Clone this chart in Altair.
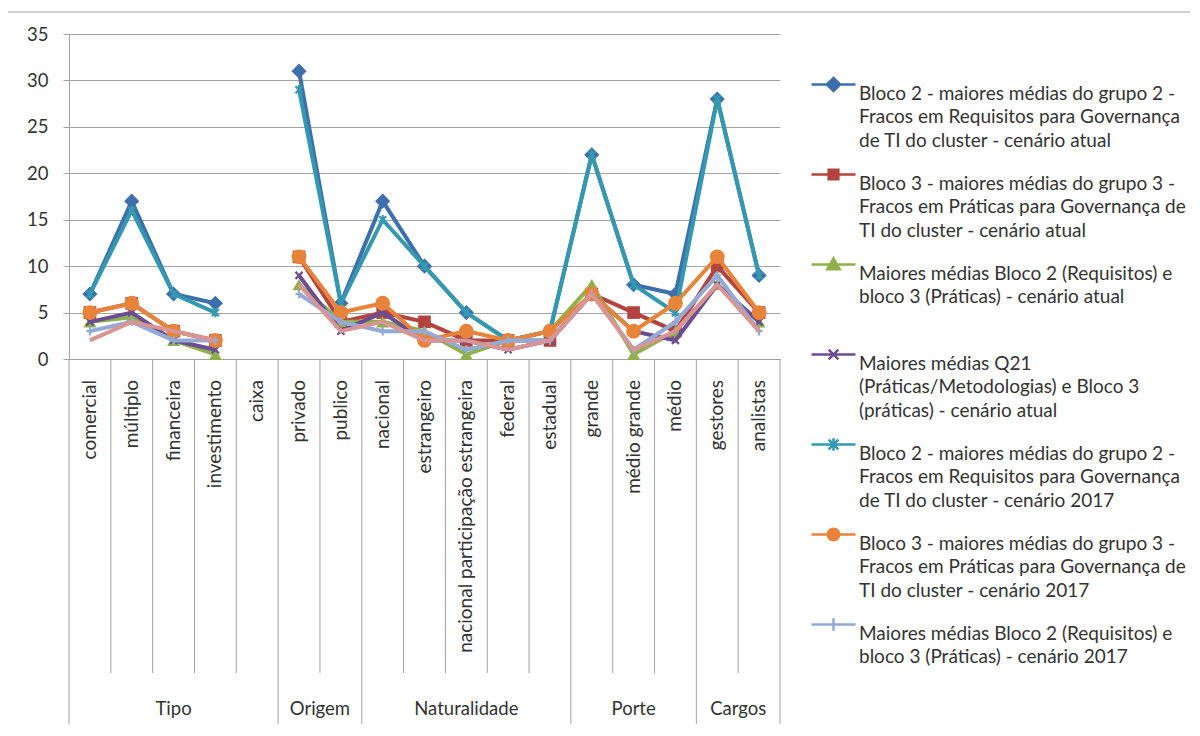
import altair as alt
import pandas as pd

# ---------------- data ----------------
categories = ["comercial", "múltiplo", "financeira", "investimento", "caixa",
              "privado", "publico",
              "nacional", "estrangeiro", "nacional  participação estrangeira", "federal", "estadual",
              "grande", "médio grande", "médio",
              "gestores", "analistas"]
group_names = ["Tipo", "Origem", "Naturalidade", "Porte", "Cargos"]
group_sizes = [5, 2, 5, 3, 2]

series_names = [
    "Bloco 2 - maiores médias do grupo 2 -|Fracos em Requisitos para Governança|de TI do cluster - cenário atual",
    "Bloco 3 - maiores  médias do grupo 3 -|Fracos em Práticas para Governança de|TI do cluster - cenário atual",
    "Maiores  médias Bloco 2 (Requisitos) e|bloco 3 (Práticas) - cenário atual| ",
    "Maiores médias Q21|(Práticas/Metodologias)  e Bloco 3|(práticas) -  cenário atual",
    "Bloco 2 - maiores  médias do grupo 2 -|Fracos em Requisitos para Governança|de TI do cluster - cenário 2017",
    "Bloco 3 - maiores médias do grupo 3 -|Fracos em Práticas para Governança de|TI do cluster - cenário 2017",
    "Maiores médias Bloco 2 (Requisitos) e|bloco 3 (Práticas) - cenário 2017",
    "extra",
]
N = None
bloco2_atual = [7, 17, 7, 6, N, 31, 6, 17, 10, 5, 2, 3, 22, 8, 7, 28, 9]
bloco3_atual = [5, 6, 3, 2, N, 11, 4, 5, 4, 2, 2, 2, 7, 5, 3, 10, 5]
b2b3_atual = [4, 4.5, 2, 0.5, N, 8, 4, 4, 3, 0.5, 2, 3, 8, 0.5, 3, 8, 4]
q21_atual = [4, 5, 2, 1, N, 9, 3, 5, 2, 2, 1, 2, 7, 3, 2, 8, 4]
bloco2_2017 = [7, 16, 7, 5, N, 29, 6, 15, 10, 5, 2, 3, 22, 8, 5, 28, 9]
bloco3_2017 = [5, 6, 3, 2, N, 11, 5, 6, 2, 3, 2, 3, 7, 3, 6, 11, 5]
b2b3_2017 = [3, 4, 2, 2, N, 7, 4, 3, 3, 1, 2, 2, 7, 1, 4, 9, 3]
extra_series = [2, 4, 3, 2, N, 8, 3, 4, 2, 2, 1, 2, 7, 1, 3, 8, 3]
series_values = [bloco2_atual, bloco3_atual, b2b3_atual, q21_atual,
                 bloco2_2017, bloco3_2017, b2b3_2017, extra_series]

colors = ["#3d6fac", "#b2433f", "#8fb04a", "#6b4d94", "#3399b0", "#e8843a", "#93aad6", "#d99594"]

# marker styles (shape, size, filled)
X_PATH = "M-1,-1L1,1M-1,1L1,-1"
AST_PATH = "M-1,-1L1,1M-1,1L1,-1M0,-1.3L0,1.3"
PLUS_PATH = "M-1,0L1,0M0,-1.2L0,1.2"
markers = [("diamond", 230, True), ("square", 160, True), ("triangle-up", 170, True),
           (X_PATH, 50, False), (AST_PATH, 50, False), ("circle", 220, True),
           (PLUS_PATH, 50, False), None]

# legend symbols: line + marker in the [-1,1] box
LINE = "M-1,0L1,0"
legend_paths = [
    LINE + "M0,-0.3L0.3,0L0,0.3L-0.3,0Z",
    LINE + "M-0.22,-0.22L0.22,-0.22L0.22,0.22L-0.22,0.22Z",
    LINE + "M0,-0.28L0.28,0.22L-0.28,0.22Z",
    LINE + "M-0.22,-0.22L0.22,0.22M-0.22,0.22L0.22,-0.22",
    LINE + "M-0.22,-0.22L0.22,0.22M-0.22,0.22L0.22,-0.22M0,-0.28L0,0.28",
    LINE + "M-0.26,0A0.26,0.26 0 1,0 0.26,0A0.26,0.26 0 1,0 -0.26,0Z",
    LINE + "M0,-0.28L0,0.28",
]

# ---------------- tables ----------------
rows = []
for s, (name, vals) in enumerate(zip(series_names, series_values)):
    for i, v in enumerate(vals):
        if v is None:
            continue
        rows.append({"series": name, "sid": s, "idx": i, "value": v, "seg": 0 if i < 4 else 1})
df = pd.DataFrame(rows)

cat_df = pd.DataFrame({"idx": list(range(len(categories))), "name": categories})

starts = []
acc = 0
for n in group_sizes:
    starts.append(acc)
    acc += n
grp_df = pd.DataFrame({
    "name": group_names,
    "center": [st + (n - 1) / 2 for st, n in zip(starts, group_sizes)],
})
group_bounds = [st - 0.5 for st in starts] + [len(categories) - 0.5]
inner_bounds = [i + 0.5 for i in range(len(categories) - 1) if (i + 0.5) not in group_bounds]
gsep_df = pd.DataFrame({"pos": group_bounds})
isep_df = pd.DataFrame({"pos": inner_bounds})

# ---------------- style ----------------
FONT = "Lato"
TXT = "#333333"
GRID = "#a3a3a3"
W, H = 711, 325

xscale = alt.Scale(domain=[-0.5, len(categories) - 0.5], nice=False, zero=False)
yscale = alt.Scale(domain=[0, 35], nice=False)
xaxis = alt.Axis(labels=False, ticks=False, grid=False, domain=True, domainColor=GRID, title=None)
yaxis = alt.Axis(values=list(range(0, 36, 5)), tickSize=6, tickColor=GRID, domainColor=GRID,
                 gridColor=GRID, grid=True, labelFont=FONT, labelFontSize=18.5, labelColor=TXT,
                 labelPadding=15, title=None)

def X(field):
    return alt.X(field, type="quantitative", scale=xscale, axis=xaxis)

def Y(field):
    return alt.Y(field, type="quantitative", scale=yscale, axis=yaxis)

layers = []

# separators of the category axis
layers.append(alt.Chart(isep_df).mark_rule(color=GRID, strokeWidth=1).encode(
    x=X("pos"), y=alt.value(H), y2=alt.value(H + 314)))
layers.append(alt.Chart(gsep_df).mark_rule(color=GRID, strokeWidth=1).encode(
    x=X("pos"), y=alt.value(H), y2=alt.value(H + 371)))

# chart border (top and left edges)
layers.append(alt.Chart(cat_df.head(1)).mark_rule(color=GRID, strokeWidth=1).encode(
    x=alt.value(-62), x2=alt.value(-62), y=alt.value(-22), y2=alt.value(H + 420)))
layers.append(alt.Chart(cat_df.head(1)).mark_rule(color=GRID, strokeWidth=1).encode(
    x=alt.value(-62), x2=alt.value(W + 450), y=alt.value(-22), y2=alt.value(-22)))

# category labels
layers.append(alt.Chart(cat_df).mark_text(angle=270, align="right", baseline="middle",
                                          font=FONT, fontSize=19, color=TXT).encode(
    x=X("idx"), y=alt.value(H + 21), text="name:N"))
# group labels
layers.append(alt.Chart(grp_df).mark_text(align="center", baseline="middle",
                                          font=FONT, fontSize=18.5, color=TXT).encode(
    x=X("center"), y=alt.value(H + 350), text="name:N"))

# series: line then marker, in order
for s in range(len(series_names)):
    d = df[df.sid == s]
    layers.append(alt.Chart(d).mark_line(color=colors[s], strokeWidth=4).encode(
        x=X("idx"), y=Y("value"), detail="seg:N"))
    if markers[s] is not None:
        shp, size, filled = markers[s]
        layers.append(alt.Chart(d).mark_point(shape=shp, size=size, filled=filled, opacity=1,
                                              color=colors[s], strokeWidth=2.2).encode(
            x=X("idx"), y=Y("value")))

# legend layer (invisible points, legend only)
leg_names = series_names[:7]
leg = alt.Legend(orient="none", legendX=741, legendY=27, title=None, labelFont=FONT,
                 labelFontSize=19, labelColor=TXT, labelLimit=600, labelOffset=2,
                 rowPadding=0, symbolSize=1936, symbolStrokeWidth=2.5, symbolOpacity=1,
                 labelExpr="split(datum.label, '|')", labelBaseline="top")
leg_df = df[df.sid < 7]
layers.append(alt.Chart(leg_df).mark_point(filled=True, opacity=0).encode(
    x=X("idx"), y=Y("value"),
    fill=alt.Fill("series:N", scale=alt.Scale(domain=leg_names, range=colors[:7]), legend=leg),
    stroke=alt.Stroke("series:N", scale=alt.Scale(domain=leg_names, range=colors[:7]), legend=leg),
    shape=alt.Shape("series:N", scale=alt.Scale(domain=leg_names, range=legend_paths), legend=leg),
))

chart = alt.layer(*layers).properties(
    width=W, height=H,
    autosize=alt.AutoSizeParams(type="none"),
    padding={"left": 61, "top": 26, "right": 410, "bottom": 365},
    background="white",
).configure(
    style={"guide-label": {"lineHeight": 23.5}},
).configure_view(stroke=None)

chart.save("out.html", embed_options={"renderer": "svg", "actions": False})
